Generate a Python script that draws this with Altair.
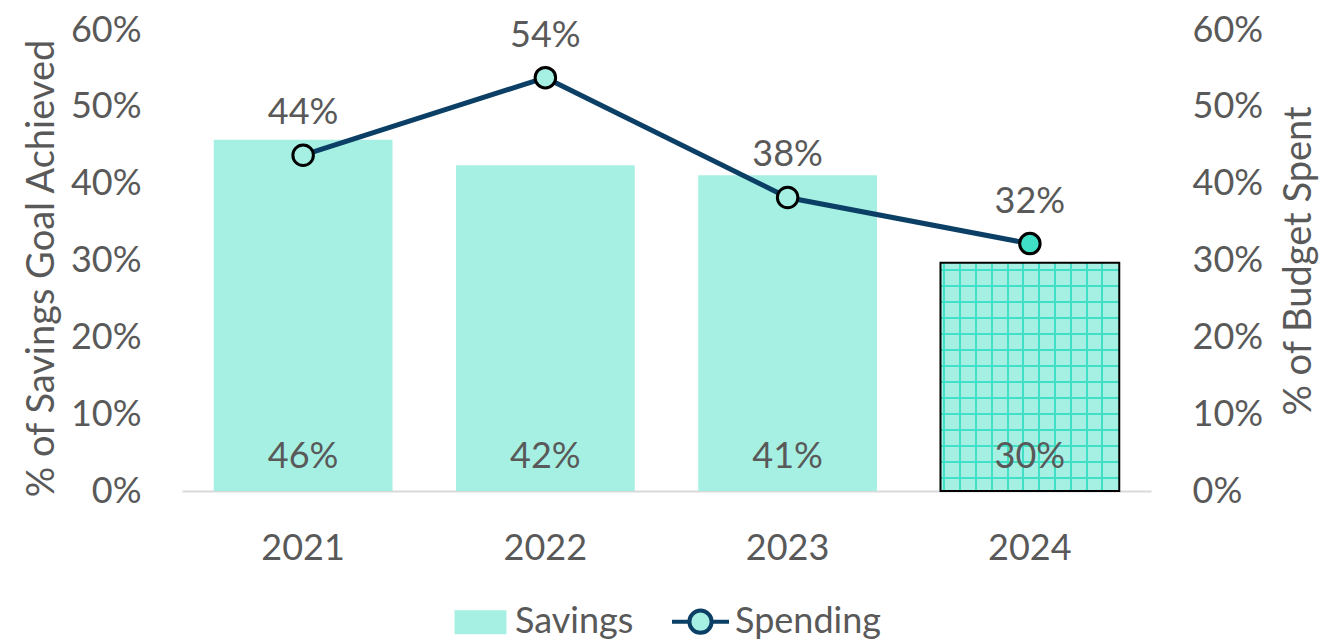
import altair as alt
import pandas as pd

# ---------------- data ----------------
years = ["2021", "2022", "2023", "2024"]
savings = [0.457, 0.424, 0.411, 0.297]
spending = [0.437, 0.538, 0.382, 0.322]
y_ticks = [0, 0.1, 0.2, 0.3, 0.4, 0.5, 0.6]
series_names = ["Savings", "Spending"]
highlight_year = "2024"

# ---------------- style ----------------
LIGHT = "#A6F0E3"
TEAL = "#3FE0C5"
NAVY = "#0B3F66"
TEXT = "#595959"
FONT = "Lato"
FS = 36
TITLE_FS = 38
PLOT_W = 969
PLOT_H = 461
Y_MAX = 0.6
P_INNER = 0.262
P_OUTER = P_INNER / 2

df = pd.DataFrame({"year": years, "savings": savings, "spending": spending})
legend_df = pd.DataFrame({"series": series_names})

# pixel size of the highlighted bar (for the grid pattern)
step = PLOT_W / (len(years) - P_INNER + 2 * P_OUTER)
bar_w = step * (1 - P_INNER)
bar_h = savings[years.index(highlight_year)] / Y_MAX * PLOT_H


def stripes(first, spacing, thick, total, line_color, gap_color):
    stops = [alt.GradientStop(offset=0, color=gap_color)]
    k = 0
    while True:
        a = (first + k * spacing) / total
        b = (first + k * spacing + thick) / total
        if b > 1:
            break
        stops += [
            alt.GradientStop(offset=a, color=gap_color),
            alt.GradientStop(offset=a, color=line_color),
            alt.GradientStop(offset=b, color=line_color),
            alt.GradientStop(offset=b, color=gap_color),
        ]
        k += 1
    stops.append(alt.GradientStop(offset=1, color=gap_color))
    return stops


h_grad = alt.LinearGradient(gradient="linear", x1=0, x2=0, y1=0, y2=1,
                            stops=stripes(6, 16, 2, bar_h, TEAL, LIGHT))
v_grad = alt.LinearGradient(gradient="linear", x1=0, x2=1, y1=0, y2=0,
                            stops=stripes(3, 15.8, 2, bar_w, TEAL, "rgba(166,240,227,0)"))

x_enc = alt.X(
    "year:N", sort=years,
    scale=alt.Scale(paddingInner=P_INNER, paddingOuter=P_OUTER),
    axis=alt.Axis(title=None, labelAngle=0, ticks=False, domainColor="#D9D9D9",
                  domainWidth=2, labelPadding=40),
)

yscale = alt.Scale(domain=[0, Y_MAX], nice=False)

y_left = alt.Y(
    "savings:Q", scale=yscale,
    axis=alt.Axis(values=y_ticks, format=".0%", grid=False, domain=False, ticks=False,
                  title="% of Savings Goal Achieved", labelPadding=41, titlePadding=9,
                  titleY=238),
)
y_right = alt.Y(
    "spending:Q", scale=yscale,
    axis=alt.Axis(orient="right", values=y_ticks, format=".0%", grid=False, domain=False,
                  ticks=False, title="% of Budget Spent", titleAngle=270, titleBaseline="top",
                  labelPadding=41, titlePadding=18),
)
y_sav_plain = alt.Y("savings:Q", scale=yscale, axis=None)
y_spe_plain = alt.Y("spending:Q", scale=yscale, axis=None)

base = alt.Chart(df)
hl = base.transform_filter(alt.datum.year == highlight_year)

bars = base.mark_bar(color=LIGHT).encode(x=x_enc, y=y_left)
bars_h = hl.mark_bar(fill=h_grad).encode(x=x_enc, y=y_sav_plain)
bars_v = hl.mark_bar(fill=v_grad, stroke="black", strokeWidth=2).encode(x=x_enc, y=y_sav_plain)
bar_labels = base.transform_calculate(zero="0").mark_text(
    font=FONT, fontSize=FS, color=TEXT, baseline="middle", dy=-34).encode(
    x=x_enc, y=alt.Y("zero:Q", scale=yscale, axis=None),
    text=alt.Text("savings:Q", format=".0%"))

line = base.mark_line(color=NAVY, strokeWidth=5).encode(x=x_enc, y=y_right)
points = base.mark_point(filled=True, size=420, stroke="black", strokeWidth=3, opacity=1).encode(
    x=x_enc, y=y_spe_plain,
    fill=alt.condition(alt.datum.year == highlight_year, alt.value(TEAL), alt.value(LIGHT)),
)
line_labels = base.mark_text(font=FONT, fontSize=FS, color=TEXT, baseline="middle", dy=-42).encode(
    x=x_enc, y=y_spe_plain, text=alt.Text("spending:Q", format=".0%"))

rect_path = "M-0.84,-0.35H0.84V0.35H-0.84Z"
line_circle_path = "M-1,0H-0.39A0.39,0.39,0,1,1,0.39,0A0.39,0.39,0,1,1,-0.39,0M0.39,0H1"
leg = alt.Legend(title=None, orient="none", legendX=268, legendY=561, direction="horizontal",
                 symbolSize=3249, symbolStrokeWidth=4, symbolOpacity=1, labelFont=FONT,
                 labelFontSize=FS, labelColor=TEXT, columnPadding=30, padding=0, labelOffset=4)
legend_layer = alt.Chart(legend_df).transform_filter("false").mark_point(
    strokeWidth=4, opacity=1).encode(
    shape=alt.Shape("series:N", scale=alt.Scale(domain=series_names,
                                                range=[rect_path, line_circle_path]), legend=leg),
    fill=alt.Fill("series:N", scale=alt.Scale(domain=series_names, range=[LIGHT, LIGHT]), legend=leg),
    stroke=alt.Stroke("series:N", scale=alt.Scale(domain=series_names, range=[LIGHT, NAVY]),
                      legend=leg),
)

chart = (
    alt.layer(bars, bars_h, bars_v, bar_labels, line, points, line_labels, legend_layer)
    .resolve_scale(y="independent")
    .properties(width=PLOT_W, height=PLOT_H, autosize=alt.AutoSizeParams(type="none"),
                padding={"left": 174, "top": 22, "right": 180, "bottom": 152})
    .configure_view(stroke=None)
    .configure_axis(labelFont=FONT, labelFontSize=FS, labelColor=TEXT, titleFont=FONT,
                    titleFontSize=TITLE_FS, titleColor=TEXT, titleFontWeight="normal")
    .configure_legend(labelFont=FONT, labelFontSize=FS, labelColor=TEXT)
)

chart.save("out.html", embed_options={"renderer": "svg", "actions": False})
